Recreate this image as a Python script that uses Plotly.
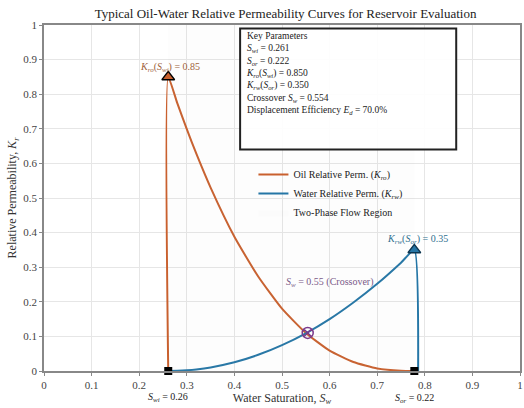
import plotly.graph_objects as go

# ---- data ----
swc = 0.261
sor = 0.222
kro_max = 0.85
krw_max = 0.35
sw_cross = 0.554
kr_cross = 0.11

sw_pts = [0.261, 0.28, 0.30, 0.32, 0.35, 0.40, 0.45, 0.50, 0.55, 0.60, 0.65, 0.70, 0.75, 0.778]
kro_pts = [0.85, 0.774, 0.699, 0.628, 0.530, 0.388, 0.273, 0.180, 0.110, 0.059, 0.026, 0.0075, 0.0006, 0.0]
krw_pts = [0.0, 0.0005, 0.002, 0.0045, 0.0104, 0.0253, 0.0468, 0.0748, 0.109, 0.150, 0.198, 0.252, 0.313, 0.35]

x_ticks = [0, 0.1, 0.2, 0.3, 0.4, 0.5, 0.6, 0.7, 0.8, 0.9, 1]
y_ticks = [0, 0.1, 0.2, 0.3, 0.4, 0.5, 0.6, 0.7, 0.8, 0.9, 1]

ORANGE = "#c9602e"
BLUE = "#2576a6"
PURPLE = "#7a3a8c"
SERIF = "Liberation Serif"

sw_end = 1 - sor

fig = go.Figure()

# oil curve with vertical at swc
fig.add_trace(go.Scatter(
    x=[swc] + sw_pts, y=[0] + kro_pts, mode="lines",
    line=dict(color=ORANGE, width=2, shape="spline", smoothing=0.5),
    name="Oil Relative Perm. (<i>K<sub>ro</sub></i>)", legendrank=1))

# water curve with vertical at end
fig.add_trace(go.Scatter(
    x=sw_pts + [sw_end + 0.008], y=krw_pts + [0], mode="lines",
    line=dict(color=BLUE, width=2, shape="spline", smoothing=0.5),
    name="Water Relative Perm. (<i>K<sub>rw</sub></i>)", legendrank=2))

# two-phase region (very faint)
fig.add_trace(go.Scatter(
    x=[swc, sw_end, sw_end, swc, swc], y=[0, 0, 1, 1, 0],
    fill="toself", fillcolor="rgba(200,200,200,0.03)",
    line=dict(width=0), mode="lines", name="Two-Phase Flow Region",
    hoverinfo="skip", legendrank=3))

# markers
fig.add_trace(go.Scatter(
    x=[swc], y=[kro_max], mode="markers",
    marker=dict(symbol="triangle-up", size=11, color=ORANGE, line=dict(color="black", width=1.5)),
    showlegend=False))
fig.add_trace(go.Scatter(
    x=[sw_end], y=[krw_max], mode="markers",
    marker=dict(symbol="triangle-up", size=11, color=BLUE, line=dict(color="#0b3550", width=1.5)),
    showlegend=False))
fig.add_trace(go.Scatter(
    x=[swc, sw_end], y=[0, 0], mode="markers",
    marker=dict(symbol="square", size=8, color="black"),
    showlegend=False, cliponaxis=False))
fig.add_trace(go.Scatter(
    x=[sw_cross], y=[kr_cross], mode="markers",
    marker=dict(symbol="circle-x-open", size=11, color=PURPLE, line=dict(width=1.5)),
    showlegend=False))

ann_font = dict(family=SERIF, size=10)
annotations = [
    dict(x=swc, y=kro_max, xref="x", yref="y", text="<i>K<sub>ro</sub></i>(<i>S<sub>wi</sub></i>) = 0.85",
         showarrow=False, yshift=9, xshift=2, font=dict(ann_font, color="#a0623a")),
    dict(x=sw_end, y=krw_max, xref="x", yref="y", text="<i>K<sub>rw</sub></i>(<i>S<sub>or</sub></i>) = 0.35",
         showarrow=False, yshift=10, xshift=3, font=dict(ann_font, color="#2f6f8f")),
    dict(x=sw_cross, y=kr_cross, xref="x", yref="y", text="<i>S<sub>w</sub></i> = 0.55 (Crossover)",
         showarrow=False, xshift=22, yshift=50, font=dict(ann_font, color="#7a5a88")),
    dict(x=swc, y=0, xref="x", yref="paper", yanchor="middle", text="<i>S<sub>wi</sub></i> = 0.26",
         showarrow=False, yshift=-26, font=dict(family=SERIF, size=10, color="#222")),
    dict(x=sw_end, y=0, xref="x", yref="paper", yanchor="middle", text="<i>S<sub>or</sub></i> = 0.22",
         showarrow=False, yshift=-27, font=dict(family=SERIF, size=10, color="#222")),
    dict(x=0.42, y=0.988, xref="paper", yref="paper", xanchor="left", yanchor="top", align="left",
         text=("Key Parameters<br>"
               f"<i>S<sub>wi</sub></i> = {swc:.3f}<br>"
               f"<i>S<sub>or</sub></i> = {sor:.3f}<br>"
               f"<i>K<sub>ro</sub></i>(<i>S<sub>wi</sub></i>) = {kro_max:.3f}<br>"
               f"<i>K<sub>rw</sub></i>(<i>S<sub>or</sub></i>) = {krw_max:.3f}<br>"
               f"Crossover <i>S<sub>w</sub></i> = {sw_cross:.3f}<br>"
               "Displacement Efficiency <i>E<sub>d</sub></i> = 70.0%"),
         showarrow=False, font=dict(family=SERIF, size=9.5, color="#222")),
]

shapes = [
    dict(type="rect", xref="paper", yref="paper", x0=0.412, x1=0.866, y0=0.64, y1=0.99,
         line=dict(color="#222", width=2), fillcolor="rgba(255,255,255,0.9)", layer="above"),
]

tickfont = dict(family=SERIF, size=11, color="#444")

fig.update_layout(
    width=524, height=408,
    margin=dict(l=44, r=2, t=25, b=37),
    paper_bgcolor="white", plot_bgcolor="white",
    title=dict(text="Typical Oil-Water Relative Permeability Curves for Reservoir Evaluation",
               x=0.545, xanchor="center", y=0.968, yanchor="middle",
               font=dict(family=SERIF, size=13, color="#222")),
    font=dict(family=SERIF, size=10, color="#333"),
    legend=dict(x=0.44, y=0.61, xanchor="left", yanchor="top", bgcolor="rgba(255,255,255,0)",
                font=dict(family=SERIF, size=10, color="#222"), itemwidth=30, tracegroupgap=0),
    annotations=annotations,
    shapes=shapes,
    showlegend=True,
)
fig.update_xaxes(range=[0, 1], tickvals=x_ticks, ticktext=[f"{v:g}" for v in x_ticks],
                 tickfont=tickfont,
                 showgrid=True, gridcolor="#e6e6e6", gridwidth=1, zeroline=False,
                 showline=True, linecolor="#888", linewidth=1.5, mirror=True,
                 ticks="outside", ticklen=3, tickcolor="#888",
                 title=dict(text="Water Saturation, <i>S<sub>w</sub></i>", standoff=0,
                            font=dict(family=SERIF, size=12, color="#333")))
fig.update_yaxes(range=[0, 1], tickvals=y_ticks, ticktext=[f"{v:g}" for v in y_ticks],
                 tickfont=tickfont,
                 showgrid=True, gridcolor="#e6e6e6", gridwidth=1, zeroline=False,
                 showline=True, linecolor="#888", linewidth=1.5, mirror=True,
                 ticks="outside", ticklen=3, tickcolor="#888",
                 title=dict(text="Relative Permeability, <i>K<sub>r</sub></i>", standoff=4,
                            font=dict(family=SERIF, size=12, color="#333")))

fig.write_html("out.html", config={"displayModeBar": False},
               post_script="document.body.style.margin='0';")
